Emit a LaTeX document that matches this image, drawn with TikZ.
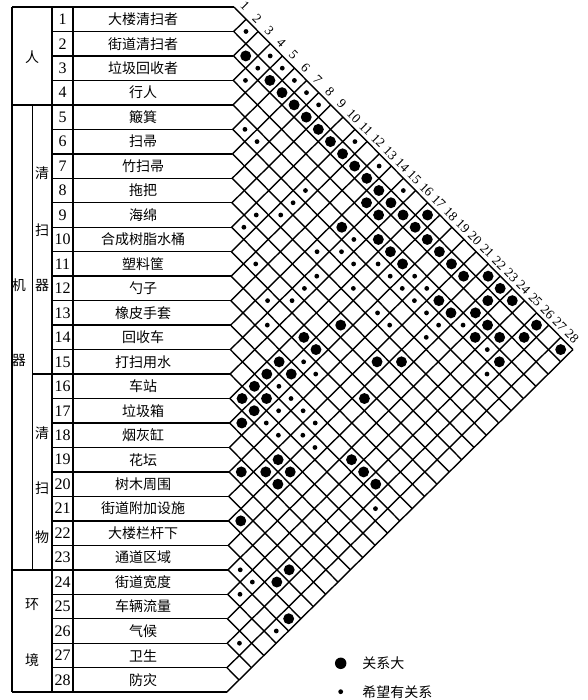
\documentclass[tikz,border=0pt]{standalone}
\usepackage{fontspec}
\setmainfont{Liberation Serif}
\newfontfamily\cjk{Noto Sans CJK SC}
\begin{document}
\begin{tikzpicture}[x=0.75pt,y=-0.75pt,line width=1.05pt,line join=miter,
  rowname/.style={font=\cjk\fontsize{10.5}{12}\selectfont,inner sep=0pt},
  rownum/.style={font=\fontsize{12}{14}\selectfont,inner sep=0pt},
  grp/.style={font=\cjk\fontsize{10.5}{12}\selectfont,inner sep=0pt},
  toplab/.style={font=\fontsize{10}{12}\selectfont,inner sep=0pt,rotate=-45},
  legtxt/.style={font=\cjk\fontsize{10.5}{12}\selectfont,inner sep=0pt,anchor=west}]
\useasboundingbox (0,0) rectangle (588,700);
\def\xo{234}
\def\yo{7}
\def\h{24.47}
\def\sh{0.01065}
% table frame
\draw (12,\yo) -- (\xo,\yo);
\draw (12,{\yo+28*\h}) -- ({\xo-\sh*28*\h},{\yo+28*\h});
\draw (12,\yo) -- (12,{\yo+28*\h});
\draw (52,\yo) -- (52,{\yo+28*\h});
\draw (73,\yo) -- (73,{\yo+28*\h});
\draw (32.7,{\yo+4*\h}) -- (32.7,{\yo+23*\h});
\draw (12,{\yo+4*\h}) -- (52,{\yo+4*\h});
\draw (12,{\yo+23*\h}) -- (52,{\yo+23*\h});
\draw (32.7,{\yo+15*\h}) -- (52,{\yo+15*\h});
\foreach \k in {1,...,27}{
  \draw (52,{\yo+\k*\h}) -- ({\xo-\sh*\k*\h},{\yo+\k*\h});
}
% diagonal lattice (slightly sheared like the reference)
\foreach \k in {0,...,28}{
  \draw ({\xo-\sh*\k*\h},{\yo+\k*\h}) -- ({\xo+(28-\k)*\h/2-\sh*(28+\k)*\h/2},{\yo+(28+\k)*\h/2});
}
\foreach \k in {1,...,28}{
  \draw ({\xo-\sh*\k*\h},{\yo+\k*\h}) -- ({\xo+\k*\h/2-\sh*\k*\h/2},{\yo+\k*\h/2});
}
% group labels
\node[grp] (gren) at (32,57) {人};
\node[grp] (ghuan) at (32,605) {环};
\node[grp] (gjing) at (32,660) {境};
\node[grp] (gji) at (19,285) {机};
\node[grp] (gqi) at (19,360) {器};
\node[grp] (sq1) at (42,173) {清};
\node[grp] (ss1) at (42,230) {扫};
\node[grp] (sq2) at (42,285) {器};
\node[grp] (sq3) at (42,433) {清};
\node[grp] (ss3) at (42,488) {扫};
\node[grp] (sw3) at (42,537) {物};
% rows
\foreach \i/\t in {1/大楼清扫者,2/街道清扫者,3/垃圾回收者,4/行人,5/簸箕,6/扫帚,7/竹扫帚,8/拖把,9/海绵,10/合成树脂水桶,11/塑料筐,12/勺子,13/橡皮手套,14/回收车,15/打扫用水,16/车站,17/垃圾箱,18/烟灰缸,19/花坛,20/树木周围,21/街道附加设施,22/大楼栏杆下,23/通道区域,24/街道宽度,25/车辆流量,26/气候,27/卫生,28/防灾}{
  \node[rownum] (k\i) at (62.5,{\yo+(\i-0.5)*\h}) {\i};
  \node[rowname] (n\i) at (143,{\yo+(\i-0.5)*\h}) {\t};
}
% top labels
\foreach \j in {1,...,28}{
  \node[toplab] (t\j) at ({\xo+(\j-0.5)*\h/2-\sh*(\j-0.5)*\h/2+5},{\yo+(\j-0.5)*\h/2-7}) {\j};
}
% big dots
\foreach \i/\j in {2/3,2/5,2/6,2/7,2/8,2/9,2/10,2/11,2/12,2/13,2/14,2/15,2/16,2/17,2/18,2/19,2/20,2/21,2/23,2/26,
  1/17,1/22,1/23,1/24,1/26,1/28,
  3/14,3/15,3/23,3/24,3/25,
  4/16,4/17,4/18,4/21,4/22,4/24,4/26,
  5/14,9/18,11/17,11/18,
  13/17,9/21,8/22,14/17,13/18,15/17,16/17,15/18,11/22,16/18,17/18,17/21,14/24,19/20,18/21,17/22,14/25,18/22,14/26,21/22,
  21/26,22/26,23/28}{
  \fill ({\xo+(\j-\i)*\h/2-\sh*(\i+\j-1)*\h/2},{\yo+(\i+\j-1)*\h/2}) circle[radius=4.1pt];
}
% small dots
\foreach \i/\j in {1/2,1/4,2/4,1/5,3/4,1/6,1/7,1/8,5/6,5/7,1/11,1/13,
  1/15,5/11,6/11,8/10,7/11,9/10,5/15,7/14,6/15,10/12,6/16,5/17,8/15,5/18,9/15,7/17,5/19,11/14,10/15,7/19,12/15,7/20,
  12/18,12/19,14/18,14/19,15/19,14/20,16/19,14/21,16/20,15/21,15/22,15/27,
  23/24,23/25,24/25,24/28,26/27,
  4/19,4/20,5/20,5/21,5/22,4/23,6/22,4/25,5/26}{
  \fill ({\xo+(\j-\i)*\h/2-\sh*(\i+\j-1)*\h/2},{\yo+(\i+\j-1)*\h/2}) circle[radius=1.8pt];
}
% legend
\fill (340.7,663.3) circle[radius=4.3pt];
\node[legtxt] (lbig) at (361.7,663.3) {关系大};
\fill (340.7,691.7) circle[radius=1.8pt];
\node[legtxt] (lsmall) at (361.7,691.7) {希望有关系};
\end{tikzpicture}
\end{document}
